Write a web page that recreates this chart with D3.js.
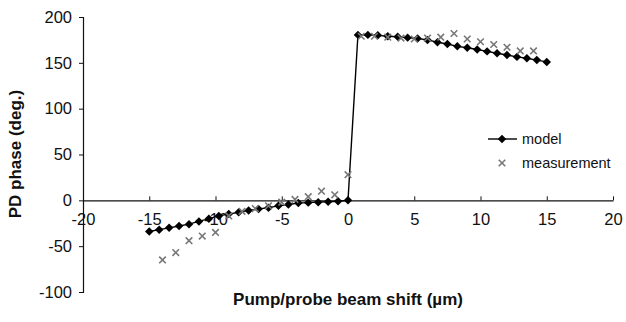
<!DOCTYPE html>
<html>
<head>
<meta charset="utf-8">
<script src="https://cdn.jsdelivr.net/npm/d3@7"></script>
<style>
  html, body { margin: 0; padding: 0; background: #fff; }
  svg { display: block; font-family: "Liberation Sans", Arial, sans-serif; }
</style>
</head>
<body>
<svg id="chart" width="626" height="322"></svg>
<script>
// Model curve: beam shift (µm) and PD phase (deg.)
const modelShift = [
  -15, -14.25, -13.5, -12.75, -12, -11.25, -10.5, -9.75, -9, -8.25, -7.5,
  -6.75, -6, -5.25, -4.5, -3.75, -3, -2.25, -1.5, -0.75, 0,
  0.75, 1.5, 2.25, 3, 3.75, 4.5, 5.25, 6, 6.75, 7.5,
  8.25, 9, 9.75, 10.5, 11.25, 12, 12.75, 13.5, 14.25, 15
];
const modelPhase = [
  -34, -32, -30, -28, -26, -23, -20, -17, -15, -13, -11,
  -9.5, -8, -6, -4.5, -3, -2.5, -2, -1.5, -1, 0,
  180.5, 180.5, 180, 179, 178.5, 177.5, 176.5, 175, 172.5, 170.5,
  168, 166.5, 164.5, 162.5, 160.5, 158.5, 156.5, 155, 153, 151
];

// Measured points
const measShift = [
  -14, -13, -12, -11, -10, -9, -8, -7, -6, -5, -4, -3, -2, -1, 0,
  1, 2, 3, 4, 5, 6, 7, 8, 9, 10, 11, 12, 13, 14
];
const measPhase = [
  -65, -57, -44, -39, -35, -17, -12, -9, -6, -2, 1, 4, 10, 6, 28,
  179, 179, 178, 177, 176, 177, 178, 182, 176, 173, 170, 167, 163, 163
];

const xTicks = [-20, -15, -10, -5, 0, 5, 10, 15, 20];
const yTicks = [-100, -50, 0, 50, 100, 150, 200];

const svg = d3.select("#chart");
const x = d3.scaleLinear().domain([-20, 20]).range([83, 613]);
const y = d3.scaleLinear().domain([-100, 200]).range([292, 17]);

const tickFont = 16.5;
const legendFont = 14.5;
const minusFmt = d => d < 0 ? "-" + Math.abs(d) : String(d);

// Y axis (ticks pointing left)
const yAxis = svg.append("g")
  .attr("transform", `translate(${x(-20)},0)`)
  .call(d3.axisLeft(y).tickValues(yTicks).tickSize(4).tickPadding(7).tickFormat(minusFmt));
yAxis.select(".domain").attr("stroke", "#111").attr("stroke-width", 1.2);
yAxis.selectAll(".tick line").attr("stroke", "#111");
yAxis.selectAll(".tick text")
  .attr("font-size", tickFont).attr("fill", "#111")
  .attr("font-family", "Liberation Sans, Arial, sans-serif");

// X axis along phase = 0 (ticks pointing up, labels below)
const xAxis = svg.append("g")
  .attr("transform", `translate(0,${y(0)})`)
  .call(d3.axisBottom(x).tickValues(xTicks).tickSizeInner(-4).tickSizeOuter(0).tickPadding(13).tickFormat(minusFmt));
xAxis.select(".domain").attr("stroke", "#111").attr("stroke-width", 1.2);
xAxis.selectAll(".tick line").attr("stroke", "#111");
xAxis.selectAll(".tick text")
  .attr("font-size", tickFont).attr("fill", "#111")
  .attr("font-family", "Liberation Sans, Arial, sans-serif");

// Model line and diamonds
const model = modelShift.map((s, i) => ({ s, p: modelPhase[i] }));
const meas = measShift.map((s, i) => ({ s, p: measPhase[i] }));

svg.append("path")
  .datum(model)
  .attr("fill", "none")
  .attr("stroke", "#000")
  .attr("stroke-width", 1.4)
  .attr("d", d3.line().x(d => x(d.s)).y(d => y(d.p)));

const diamond = d3.symbol().type(d3.symbolSquare).size(36);
svg.append("g").selectAll("path")
  .data(model)
  .join("path")
  .attr("d", diamond)
  .attr("transform", d => `translate(${x(d.s)},${y(d.p)}) rotate(45)`)
  .attr("fill", "#000");

// Measurement markers
const cross = d3.symbol().type(d3.symbolTimes).size(30);
svg.append("g").selectAll("path")
  .data(meas)
  .join("path")
  .attr("d", cross)
  .attr("transform", d => `translate(${x(d.s)},${y(d.p)})`)
  .attr("fill", "none")
  .attr("stroke", "#777")
  .attr("stroke-width", 1.6);

// Legend
const lg = svg.append("g");
lg.append("line").attr("x1", 488).attr("x2", 517).attr("y1", 139).attr("y2", 139)
  .attr("stroke", "#000").attr("stroke-width", 1.4);
lg.append("path").attr("d", diamond).attr("transform", "translate(502,139) rotate(45)").attr("fill", "#000");
lg.append("text").attr("x", 522).attr("y", 139).attr("dy", "0.35em")
  .attr("font-size", legendFont).attr("fill", "#111").text("model");
lg.append("path").attr("d", cross).attr("transform", "translate(502,163)")
  .attr("fill", "none").attr("stroke", "#777").attr("stroke-width", 1.6);
lg.append("text").attr("x", 522).attr("y", 163).attr("dy", "0.35em")
  .attr("font-size", legendFont).attr("fill", "#111").text("measurement");

// Axis titles
svg.append("text")
  .attr("x", 348).attr("y", 305)
  .attr("text-anchor", "middle")
  .attr("font-size", 17).attr("font-weight", "bold").attr("fill", "#111")
  .text("Pump/probe beam shift (µm)");

svg.append("text")
  .attr("transform", "translate(21,154) rotate(-90)")
  .attr("text-anchor", "middle")
  .attr("font-size", 17).attr("font-weight", "bold").attr("fill", "#111")
  .text("PD phase (deg.)");
</script>
</body>
</html>
